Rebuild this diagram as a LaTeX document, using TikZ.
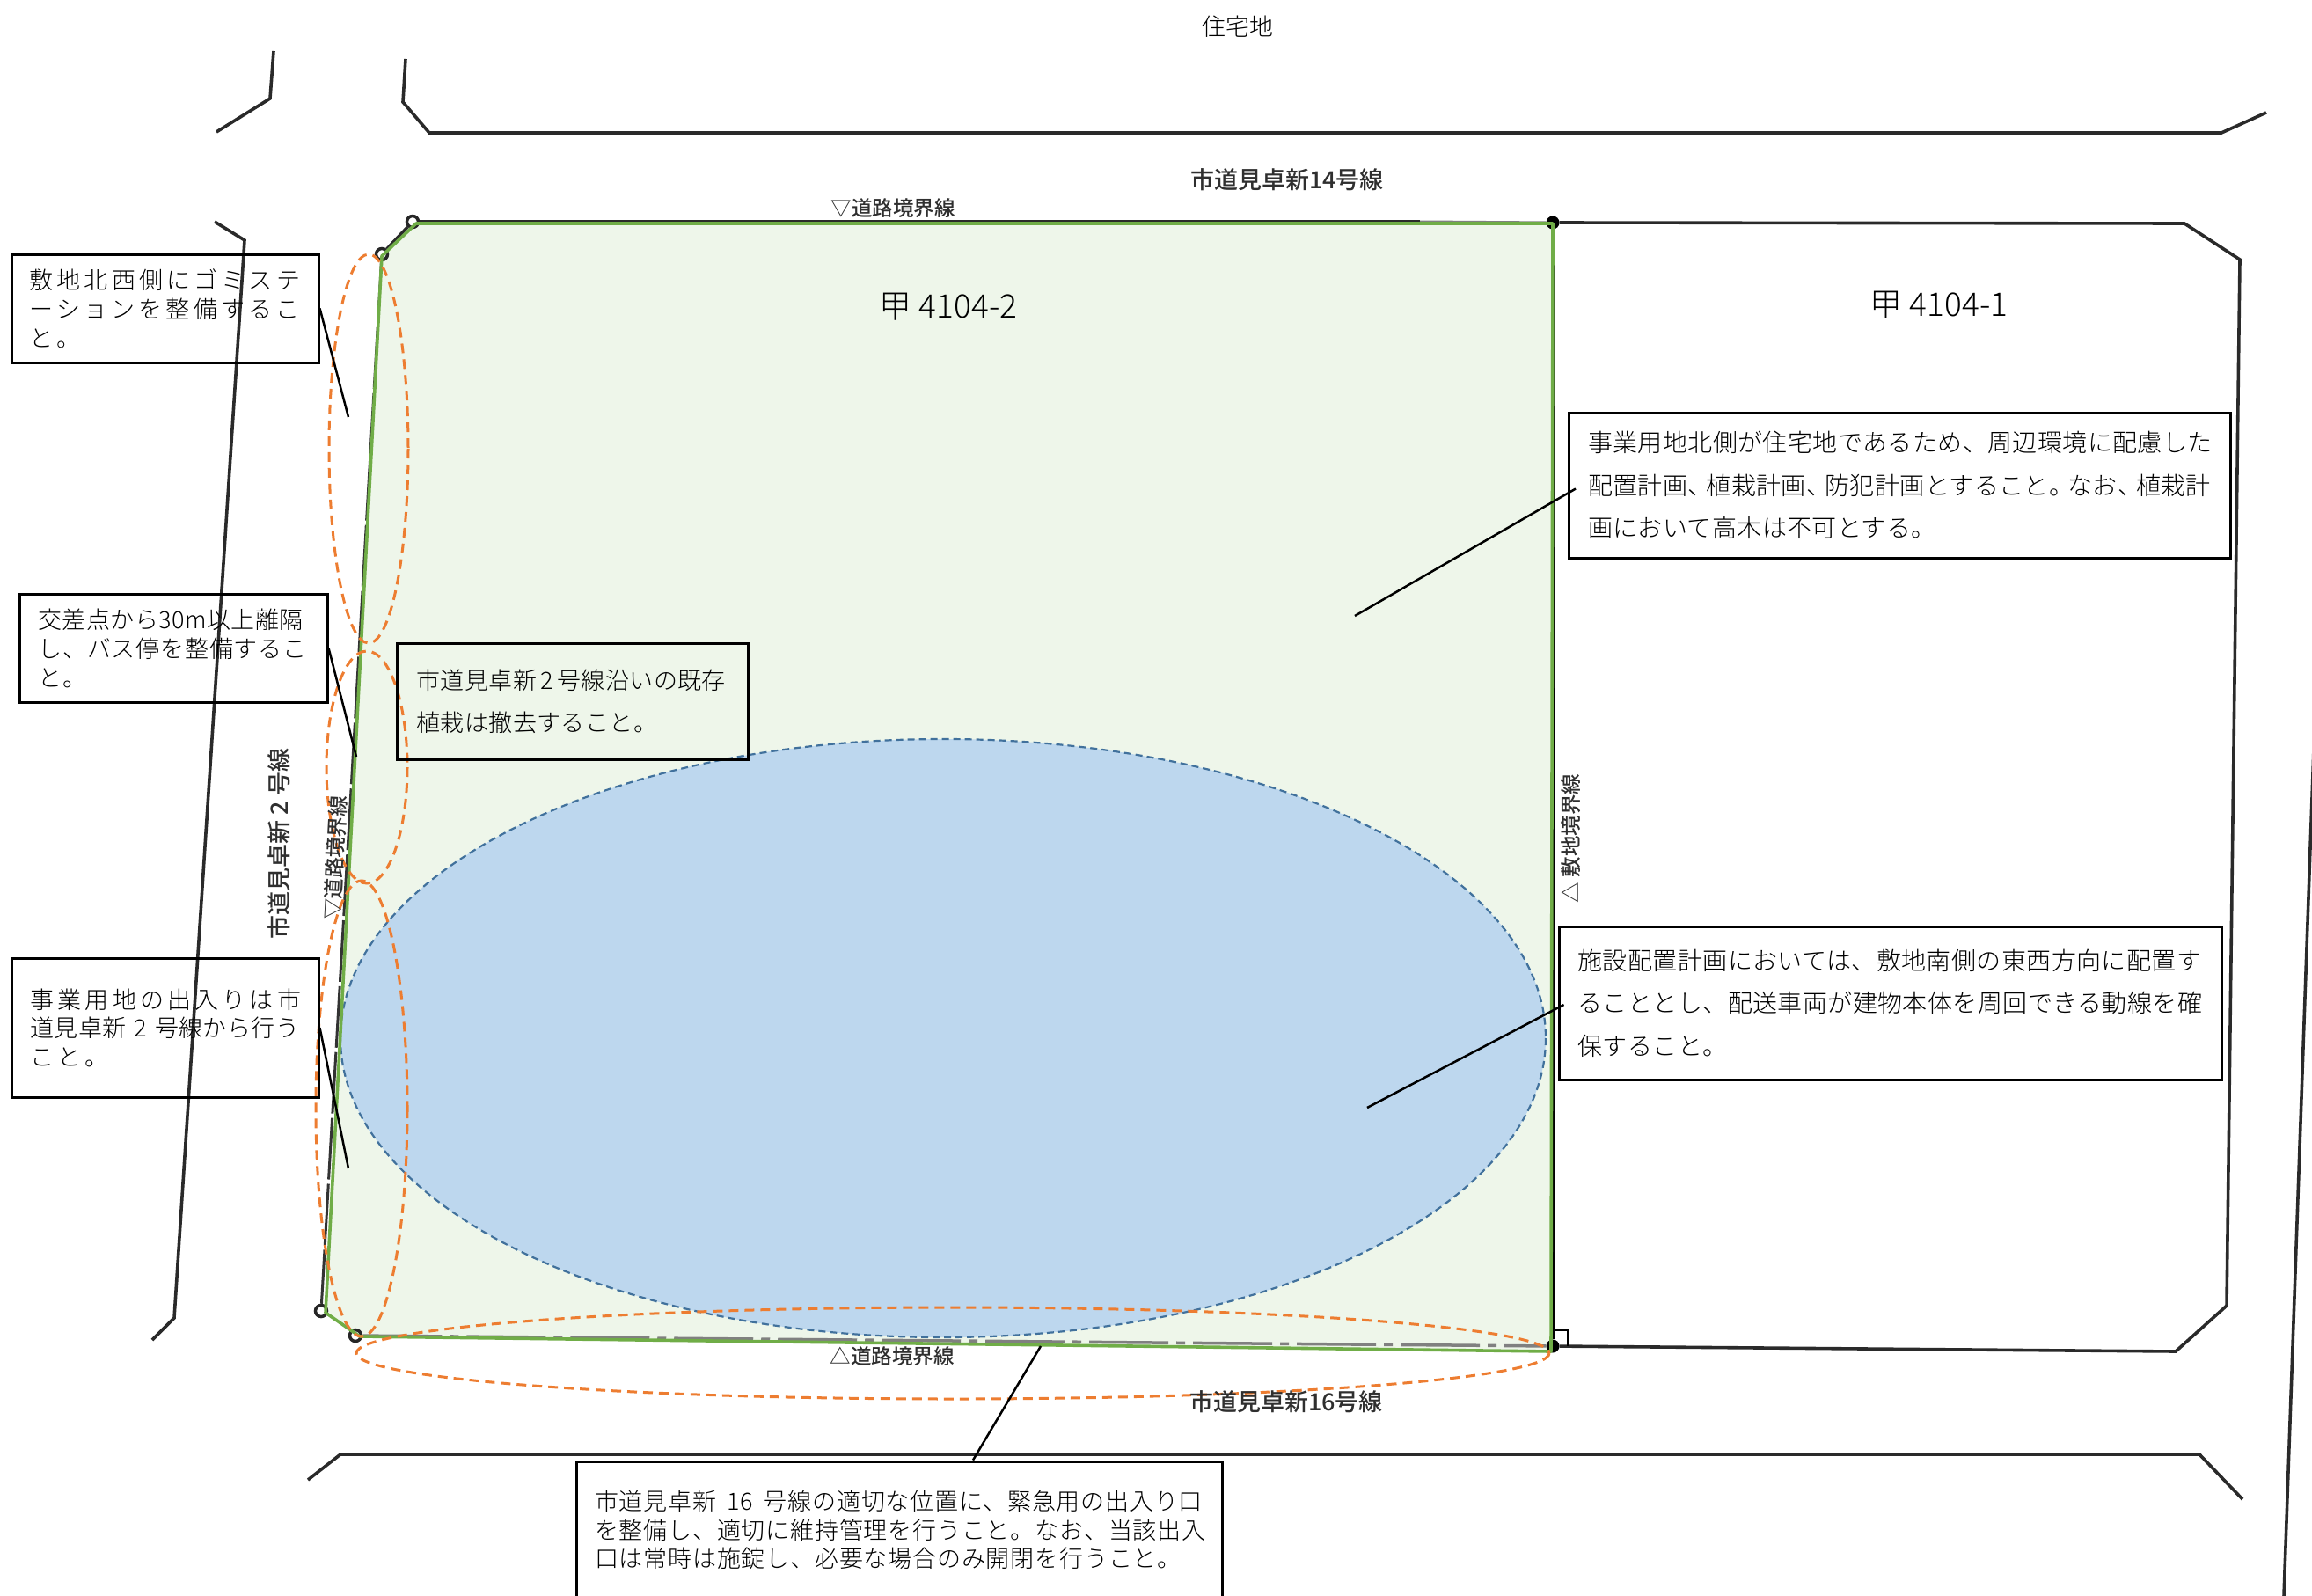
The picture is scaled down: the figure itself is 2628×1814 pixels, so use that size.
\documentclass[tikz,border=0pt]{standalone}
\usepackage{fontspec}
\setmainfont{Noto Sans CJK JP}[UprightFont=* Light]
\newfontfamily\jwide{Noto Sans CJK JP}[UprightFont=* Light,LetterSpace=15.5]
\newfontfamily\jnorm{Noto Sans CJK JP}[UprightFont=* Light,LetterSpace=1.5]
\newfontfamily\jmid{Noto Sans CJK JP}[UprightFont=* Light,LetterSpace=3]
\newfontfamily\jlabel{Noto Sans CJK JP}[UprightFont=* Medium]
\newcommand{\pk}{\kern-7pt}
\definecolor{sitefill}{HTML}{EEF6EA}
\definecolor{sitegreen}{HTML}{70AD47}
\definecolor{bluefill}{HTML}{BDD7EE}
\definecolor{bluedash}{HTML}{41719C}
\definecolor{orangedash}{HTML}{ED7D31}
\definecolor{roadline}{HTML}{2A2A2A}
\definecolor{labelgray}{HTML}{2F2F2F}
\tikzset{
  x=1pt,y=-1pt,
  roadway/.style={draw=roadline,line width=3.6pt,line join=miter},
  notebox/.style={draw=black,line width=3pt,rectangle,inner sep=0pt,align=left},
  leader/.style={draw=black,line width=2.5pt},
  zone/.style={draw=orangedash,line width=3pt,dash pattern=on 11pt off 7pt},
  ring/.style={circle,draw=black!85,line width=3.5pt,fill=none,minimum size=13pt,inner sep=0pt},
  solidpt/.style={circle,fill=black,minimum size=15pt,inner sep=0pt},
  plain/.style={inner sep=0pt,text=black},
  roadname/.style={inner sep=0pt,text=labelgray,font=\jlabel\fontsize{27}{32}\selectfont},
  linename/.style={inner sep=0pt,text=labelgray,font=\jlabel\fontsize{23.5}{26}\selectfont},
}
\begin{document}
\begin{tikzpicture}
\useasboundingbox (0,0) rectangle (2628,1814);
% surrounding roads
\draw[roadway] (461,67) -- (458,116) -- (488,151) -- (2525,151) -- (2576,128);
\draw[roadway] (311,58) -- (307,112) -- (246,150);
\draw[roadway] (244,252) -- (278,273) -- (198,1498) -- (173,1523);
\draw[roadway] (350,1682) -- (387,1653) -- (2500,1653) -- (2549,1704);
\draw[roadway] (2630,850) -- (2596,1814);
% site
\fill[sitefill] (473,254) -- (1765,254) -- (1763,1536) -- (409,1519) -- (370,1492) -- (434,291) -- cycle;
% survey points
\node[ring] (p1) at (469,252) {};
\node[ring] (p2) at (434,289) {};
\node[ring] (p3) at (365,1490) {};
\node[ring] (p4) at (404,1518) {};
\node[solidpt] (p5) at (1765,253) {};
\node[solidpt] (p6) at (1765,1530) {};
% neighbouring lot and site base lines
\draw[roadway] (p5) -- (2483,254) -- (2546,295) -- (2531,1484) -- (2473,1536) -- (p6);
\draw[roadway] (p1) -- (1614,252);
\draw[draw=gray,line width=3pt] (1614,252) -- (p5);
\draw[roadway] (p1) -- (p2);
\draw[draw=black!80,line width=3pt,dash pattern=on 70pt off 5pt] (p2) -- (p3);
\draw[draw=gray,line width=3.5pt,dash pattern=on 90pt off 9pt on 10pt off 9pt] (p4) -- (p6);
\draw[draw=black,line width=3.6pt] (p5) -- (p6);
\draw[draw=black,line width=1.2pt] (1765,1512) -- (1782,1512) -- (1782,1530);
% blue planned area
\draw[fill=bluefill,draw=bluedash,line width=2.2pt,dash pattern=on 8pt off 5pt] (1072,1180) ellipse [x radius=685,y radius=340];
% site outline
\draw[draw=sitegreen,line width=3.6pt,line join=round] (473,254) -- (1765,254) -- (1763,1536) -- (409,1519) -- (370,1492) -- (434,291) -- cycle;
% orange zones
\draw[zone] (419,510) ellipse [x radius=45,y radius=221];
\draw[zone] (417,872) ellipse [x radius=46,y radius=132];
\draw[zone] (411,1260) ellipse [x radius=52,y radius=259];
\draw[zone] (1083,1538) ellipse [x radius=678,y radius=52];
% labels
\node[plain,font=\fontsize{27}{30}\selectfont] (t0) at (1407,30) {住宅地};
\node[roadname] (t1) at (1463,204) {市道見卓新14号線};
\node[roadname] (t2) at (1462,1593) {市道見卓新16号線};
\node[linename] (t3) at (1015,237) {▽道路境界線};
\node[linename] (t4) at (1014,1542) {△道路境界線};
\node[roadname,rotate=90,font=\jlabel\fontsize{27}{30}\selectfont] (t5) at (317,959) {市道見卓新 2 号線};
\node[linename,rotate=87] (t6) at (381,975) {▽道路境界線};
\node[linename,rotate=90] (t7) at (1786,953) {△ 敷地境界線};
\node[plain,font=\fontsize{37}{40}\selectfont] (t8) at (1078,349) {甲 4104-2};
\node[plain,font=\fontsize{37}{40}\selectfont] (t9) at (2204,347) {甲 4104-1};
% note boxes
\node[notebox,minimum width=349pt,minimum height=123pt,text width=308pt,font=\jwide\fontsize{27}{33}\selectfont] (b1) at (187.5,350.5)
  {敷地北西側にゴミステ\\ーションを整備するこ\\と。};
\node[notebox,minimum width=350pt,minimum height=123pt,text width=307pt,font=\jmid\fontsize{27}{33}\selectfont] (b2) at (197,736.5)
  {\mbox{\jnorm\spaceskip=0.5pt 交差点から 30m 以上離隔}\\し、バス停を整備するこ\\と。};
\node[notebox,minimum width=399pt,minimum height=132pt,text width=354pt,font=\jnorm\fontsize{27}{48}\selectfont] (b3) at (650.5,797)
  {\mbox{\spaceskip=4.5pt 市道見卓新 2 号線沿いの既存}\\植栽は撤去すること。};
\node[notebox,minimum width=349pt,minimum height=158pt,text width=306pt,font=\jwide\fontsize{27}{32.5}\selectfont] (b4) at (187.5,1168)
  {事業用地の出入りは市\\\mbox{\jnorm 道見卓新 2 号線から行う}\\こと。};
\node[notebox,minimum width=752pt,minimum height=165pt,text width=709pt,font=\jnorm\fontsize{28}{48.5}\selectfont] (b5) at (2159.5,551.5)
  {事業用地北側が住宅地であるため、周辺環境に配慮した\\配置計画、\pk 植栽計画、\pk 防犯計画とすること。\pk なお、\pk 植栽計\\画において高木は不可とする。};
\node[notebox,minimum width=753pt,minimum height=174pt,text width=710pt,font=\jnorm\fontsize{28}{48.5}\selectfont] (b6) at (2148.5,1140)
  {施設配置計画においては、敷地南側の東西方向に配置す\\ることとし、配送車両が建物本体を周回できる動線を確\\保すること。};
\node[notebox,minimum width=734pt,minimum height=156pt,text width=692pt,font=\jmid\fontsize{27}{32.5}\selectfont] (b7) at (1022,1739)
  {\mbox{市道見卓新\hspace{3pt} 16 \hspace{3pt}号線の適切な位置に、緊急用の出入り口}\\を整備し、適切に維持管理を行うこと。なお、当該出入\\口は常時は施錠し、必要な場合のみ開閉を行うこと。};
% leaders
\coordinate (e1) at (396,474);
\coordinate (e2) at (405,860);
\coordinate (e4) at (396,1328);
\coordinate (e5) at (1540,700);
\coordinate (e6) at (1554,1259);
\coordinate (e7) at (1183,1530);
\draw[leader] (b1.east) -- (e1);
\draw[leader] (b2.east) -- (e2);
\draw[leader] (b4.east) -- (e4);
\draw[leader] ([xshift=9pt,yshift=-4pt]b5.west) -- (e5);
\draw[leader] ([xshift=7pt,yshift=-2pt]b6.west) -- (e6);
\draw[leader] ([xshift=84pt]b7.north) -- (e7);
\end{tikzpicture}
\end{document}
